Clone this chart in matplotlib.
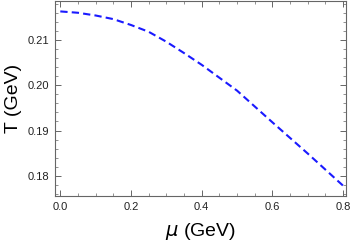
import matplotlib
matplotlib.use("Agg")
import matplotlib.pyplot as plt
from matplotlib.ticker import MultipleLocator

mu = [0.0, 0.05, 0.1, 0.15, 0.2, 0.25, 0.3, 0.35, 0.4, 0.5, 0.6, 0.7, 0.8]
T = [0.2163, 0.2160, 0.2154, 0.2146, 0.2133, 0.2118, 0.2096, 0.2071, 0.2045, 0.1988, 0.1918, 0.1849, 0.1778]

plt.rcParams['font.family'] = ['Liberation Sans', 'DejaVu Sans']
fig = plt.figure(figsize=(3.54, 2.45), dpi=100)
ax = fig.add_axes([55/354, 49/245, 291/354, 195/245])
ax.plot(mu, T, color='#1a1aff', lw=1.5, dashes=(3.5, 2))
ax.set_xlim(-0.015, 0.808)
ax.set_ylim(0.17554, 0.2186)
ax.xaxis.set_major_locator(MultipleLocator(0.2))
ax.xaxis.set_minor_locator(MultipleLocator(0.05))
ax.yaxis.set_major_locator(MultipleLocator(0.01))
ax.yaxis.set_minor_locator(MultipleLocator(0.002))
ax.xaxis.set_major_formatter(matplotlib.ticker.FormatStrFormatter('%.1f'))
ax.yaxis.set_major_formatter(matplotlib.ticker.FormatStrFormatter('%.2f'))
for s in ax.spines.values():
    s.set_color('#666666')
    s.set_linewidth(0.8)
ax.tick_params(which='both', direction='in', top=True, right=True, color='#666666', labelsize=8, labelcolor='#222222')
ax.tick_params(which='major', length=4, width=0.7, pad=4)
ax.tick_params(which='minor', length=2, width=0.5)
ax.set_xlabel(r'$\mu$ (GeV)', fontsize=14, labelpad=7)
ax.set_ylabel('T (GeV)', fontsize=14, labelpad=4)
fig.savefig('out.png', dpi=100)
